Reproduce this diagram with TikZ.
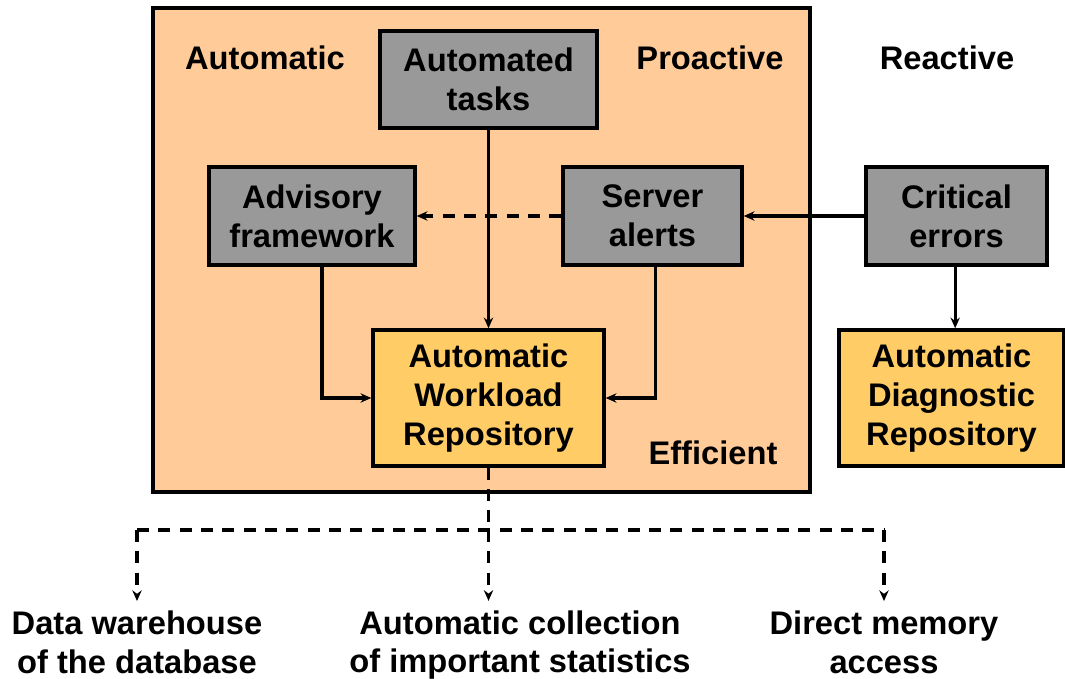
\documentclass[tikz,border=0pt]{standalone}
\usepackage{fontspec}
\setmainfont{Liberation Sans}
\usetikzlibrary{arrows.meta,calc}
\definecolor{peach}{HTML}{FFCC99}
\definecolor{boxgray}{HTML}{999999}
\definecolor{repo}{HTML}{FFCC66}
\begin{document}
\begin{tikzpicture}[x=0.75pt,y=-0.75pt,
  every node/.style={font=\fontsize{24.5}{29}\selectfont\bfseries, align=center, inner sep=0pt},
  gbox/.style={draw=black, line width=2.6pt, fill=boxgray},
  rbox/.style={draw=black, line width=2.6pt, fill=repo},
  conn/.style={line width=2.4pt, -{Stealth[length=8pt,width=7pt]}},
  dconn/.style={line width=2.4pt, dash pattern=on 9pt off 7pt},
  lbl/.style={}]
\useasboundingbox (0,0) rectangle (1065,679);
% outer box
\node[draw=black, line width=2.6pt, fill=peach, minimum width={657*0.75pt}, minimum height={484*0.75pt}] (outer) at (481.5,250) {};
% labels
\node[lbl] (lauto) at (265,58) {Automatic};
\node[lbl] (lpro) at (710,58) {Proactive};
\node[lbl] (lre) at (947,58) {Reactive};
\node[lbl] (leff) at (713,453) {Efficient};
% boxes
\node[gbox, minimum width={217*0.75pt}, minimum height={97*0.75pt}] (tasks) at (488.5,79.5) {Automated\\tasks};
\node[gbox, minimum width={206*0.75pt}, minimum height={98*0.75pt}] (adv) at (312,216) {Advisory\\framework};
\node[gbox, minimum width={179*0.75pt}, minimum height={98*0.75pt}] (srv) at (652.5,216) {Server\\alerts};
\node[gbox, minimum width={181*0.75pt}, minimum height={98*0.75pt}] (crit) at (956.5,216) {Critical\\errors};
\node[rbox, minimum width={231*0.75pt}, minimum height={136*0.75pt}] (awr) at (488.5,398) {Automatic\\Workload\\Repository};
\node[rbox, minimum width={225*0.75pt}, minimum height={136*0.75pt}] (adr) at (951.5,398) {Automatic\\Diagnostic\\Repository};
% bottom labels
\node (dw) at (137,642) {Data warehouse\\of the database};
\node (acs) at (520,645) {Automatic collection\\of important statistics};
\node (dma) at (884,642) {Direct memory\\access};
% connectors
\draw[conn] (tasks.south) -- (awr.north);
\draw[conn] ([xshift=7.5pt]adv.south) |- (awr.west);
\draw[conn] ([xshift=2pt]srv.south) |- (awr.east);
\draw[conn] (crit.west) -- (srv.east);
\draw[conn, dconn] (srv.west) -- (adv.east);
\draw[conn] ([xshift=-1pt]crit.south) -- ([xshift=-1pt]crit.south |- adr.north);
% bottom dashed tree
\coordinate (split) at (488.5,530);
\coordinate (lt) at (137,530);
\coordinate (rt) at (884,530);
\draw[dconn] (awr.south) -- (split);
\draw[dconn] (lt) -- (rt);
\draw[conn, dconn, shorten >=7pt] (lt) -- (lt |- dw.north);
\draw[conn, dconn, shorten >=7pt] (split) -- (split |- acs.north);
\draw[conn, dconn, shorten >=7pt] (rt) -- (rt |- dma.north);
\end{tikzpicture}
\end{document}
